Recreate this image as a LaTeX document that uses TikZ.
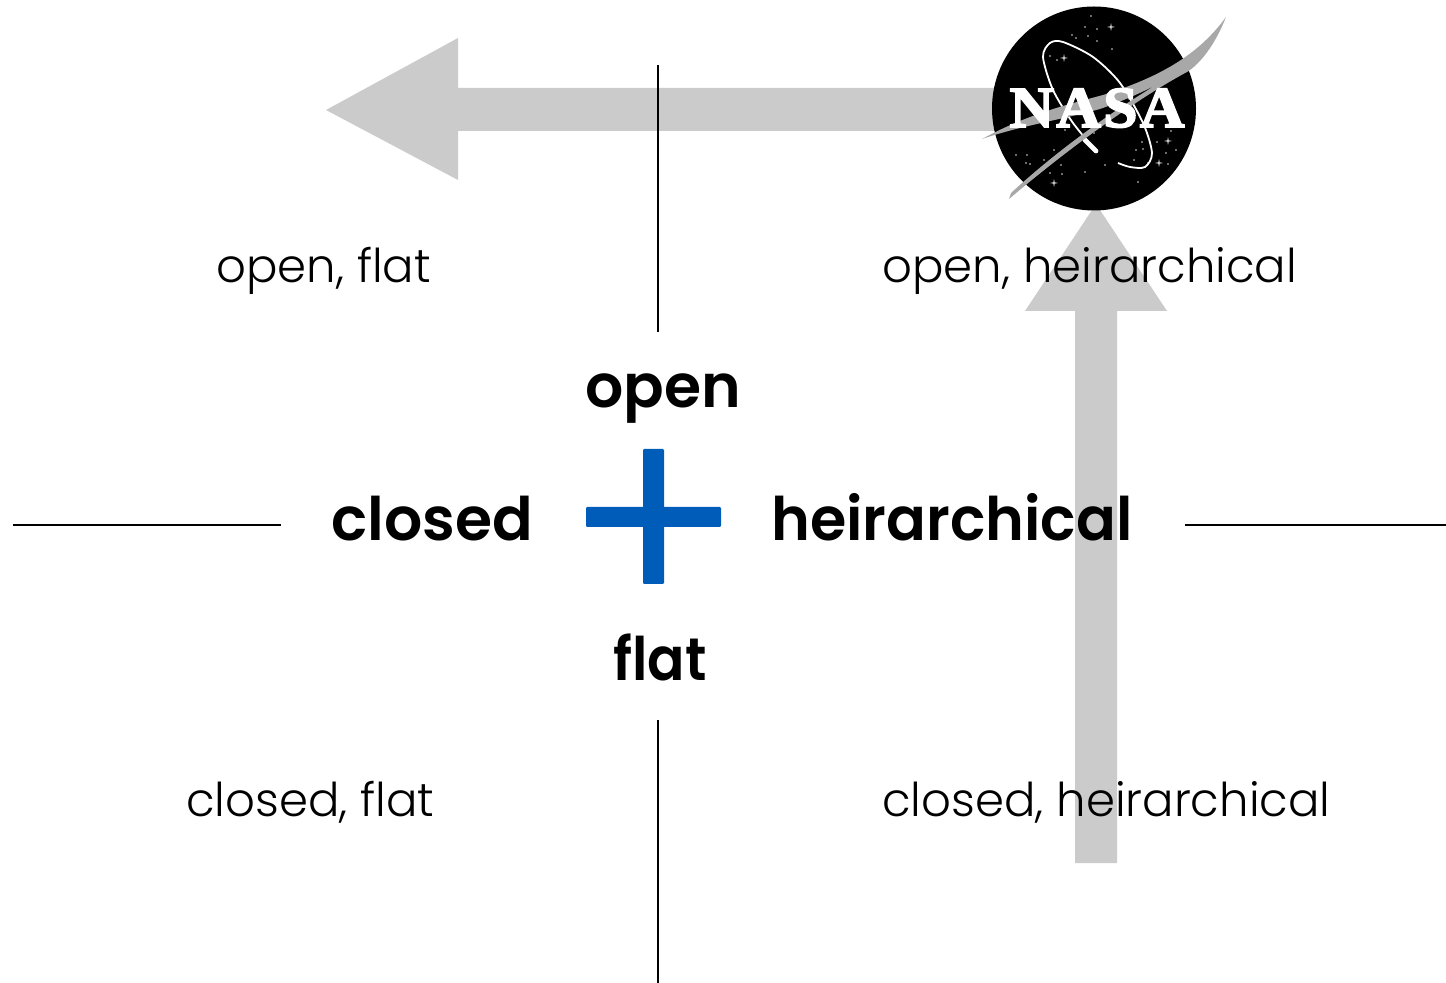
\documentclass[tikz,border=0pt]{standalone}
\usepackage{fontspec}
\setmainfont{Poppins}[UprightFont=* Light,BoldFont=* SemiBold]
\newfontfamily\logofont[FakeBold=3,LetterSpace=4]{Liberation Serif}
\begin{document}
\begin{tikzpicture}[x=0.5pt,y=-0.5pt,
  quad/.style={anchor=base west,font=\fontsize{23.3}{28}\selectfont,text=black,inner sep=0pt},
  axlabel/.style={anchor=base west,font=\fontsize{30}{36}\selectfont\bfseries,text=black,inner sep=0pt},
  axis/.style={draw=black,line width=0.7pt},
  bigarrow/.style={fill=arrowgrey},
  bluebar/.style={fill=plusblue,rounded corners=0.6pt}]
\definecolor{arrowgrey}{HTML}{CBCBCB}\definecolor{plusblue}{HTML}{005CB9}
\definecolor{swoosh}{HTML}{A8A8A8}
\useasboundingbox (0,0) rectangle (1446,983);
% arrows
\fill[bigarrow] (326,110) -- (458,38) -- (458,88) -- (1000,88) -- (1000,131) -- (458,131) -- (458,180) -- cycle;
\fill[bigarrow] (1096,204) -- (1167,311) -- (1117,311) -- (1117,863) -- (1075,863) -- (1075,311) -- (1025,311) -- cycle;
% axes
\coordinate (opentop) at (658,65);
\coordinate (openend) at (658,332);
\coordinate (flattop) at (658,720);
\coordinate (flatend) at (658,983);
\coordinate (closedleft) at (13,525);
\coordinate (closedend) at (281,525);
\coordinate (heirstart) at (1185,525);
\coordinate (heirright) at (1446,525);
\draw[axis] (opentop) -- (openend);
\draw[axis] (flattop) -- (flatend);
\draw[axis] (closedleft) -- (closedend);
\draw[axis] (heirstart) -- (heirright);
% plus
\fill[bluebar] (643,449) rectangle (664,584);
\fill[bluebar] (586,507) rectangle (721,527);
% labels
\node[axlabel] (open) at (585,408) {open};
\node[axlabel] (closed) at (331,541) {closed};
\node[axlabel,xscale=0.98] (heirarchical) at (771,541) {heirarchical};
\node[axlabel,xscale=0.92] (flat) at (613,681) {flat};
\node[quad] (openflat) at (216,283) {open, flat};
\node[quad] (openheir) at (882,283) {open, heirarchical};
\node[quad] (closedflat) at (186,816) {closed, flat};
\node[quad] (closedheir) at (882,816) {closed, heirarchical};
% logo
\fill[black] (1094,108.5) circle (102);
\foreach \x/\y in {1091/16,1085/27,1097/29,1088/36,1072/35,1076/38,1097/41,1112/49,1057/60,1050/56,1065/130,1094/133,1142/142,1157/142,1143/149,1136/150,1166/153,1176/150,1134/160,1148/163,1016/155,1027/155,1026/163,1030/164,1044/160,1054/150,1061/165,1050/173,1062/174,1085/172,1105/165,1138/182,1168/164,1171/131}
  \fill[white!85!black] (\x,\y) circle (0.8);
\foreach \x/\y in {1111/27,1064/58,1168/141,1159/163,1054/183}
  \fill[white!85!black] (\x-4,\y) -- (\x,\y-0.8) -- (\x+4,\y) -- (\x,\y+0.8) -- cycle (\x-0.8,\y) -- (\x,\y-4) -- (\x+0.8,\y) -- (\x,\y+4) -- cycle;
\draw[white,line width=0.9pt] plot[smooth] coordinates {(1097,152) (1073,123) (1053,90) (1043,57) (1050,43) (1063,42) (1093,57) (1120,83) (1143,123) (1152,153) (1145,167) (1130,167) (1118,163)};
\draw[white,line width=2.4pt,line cap=round] (1085,140) -- (1096,151);
\fill[swoosh] (982,139) .. controls (1030,113) and (1070,104) .. (1103,95) .. controls (1150,80) and (1195,60) .. (1226,17)
  .. controls (1215,45) and (1200,64) .. (1187,72) .. controls (1140,97) and (1070,147) .. (1009,199)
  -- (1011,193) .. controls (1060,148) and (1120,105) .. (1175,74) .. controls (1150,90) and (1120,102) .. (1100,109)
  .. controls (1060,120) and (1020,126) .. cycle;
\node[text=white,inner sep=0pt,anchor=base,xscale=1.06,font=\logofont\fontsize{29}{30}\selectfont\bfseries] (nasa) at (1097,127) {NASA};
\end{tikzpicture}
\end{document}
